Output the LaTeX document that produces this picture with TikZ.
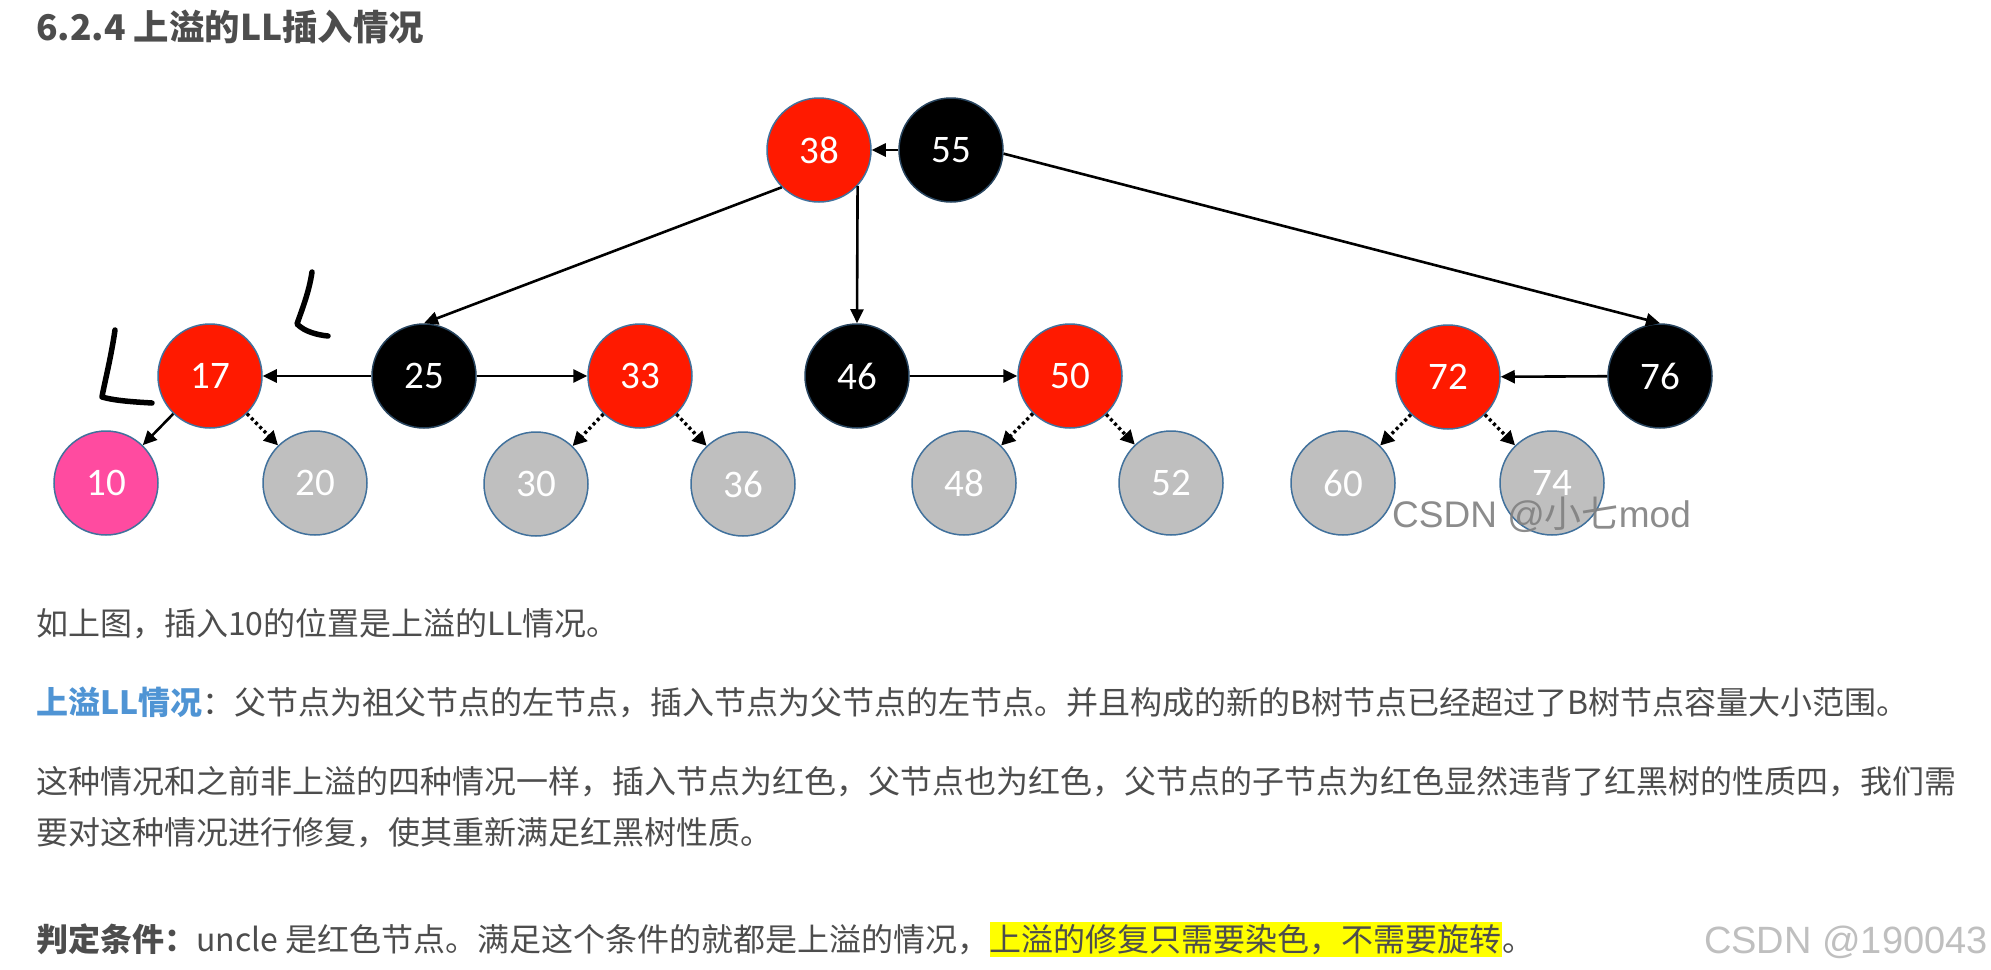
\documentclass[tikz,border=0pt]{standalone}
\usepackage{fontspec}
\setmainfont{Noto Sans CJK SC}
\newfontfamily\numfont{Carlito}
\newfontfamily\wmfont{Liberation Sans}
\newfontfamily\cjkfont{Noto Sans CJK SC}
\usetikzlibrary{arrows.meta}
\definecolor{txt}{HTML}{4D4D4D}
\definecolor{rbred}{HTML}{FF1A00}
\definecolor{rbpink}{HTML}{FF4BA0}
\definecolor{rbgray}{HTML}{BFBFBF}
\definecolor{rbedge}{HTML}{41719C}
\definecolor{hlblue}{HTML}{4F94D4}
\definecolor{hlyellow}{HTML}{FFFF00}
\begin{document}
\begin{tikzpicture}[x=1pt,y=-1pt,
  rb/.style={circle, minimum size=104pt, inner sep=0pt, draw=rbedge, line width=1.5pt,
    text=white, font=\numfont\fontsize{39pt}{41pt}\selectfont},
  rednode/.style={rb, fill=rbred},
  blacknode/.style={rb, fill=black, draw=rbedge!60!black},
  graynode/.style={rb, fill=rbgray},
  pinknode/.style={rb, fill=rbpink},
  edge/.style={line width=2.6pt, -{Triangle[length=14pt,width=13pt]}},
  nilset/.style={line width=3.4pt, dash pattern=on 3pt off 3pt, -{Triangle[length=14pt,width=14pt]}},
  hand/.style={line width=5.5pt, line cap=round, line join=round},
  body/.style={anchor=base west, inner sep=0pt, text=txt, font=\fontsize{32pt}{38pt}\selectfont},
]
\useasboundingbox (0,0) rectangle (1991,969);
\fill[white] (0,0) rectangle (1991,969);

% title
\node[anchor=base west, inner sep=0pt, text=txt, font=\bfseries\fontsize{35.4pt}{40pt}\selectfont] (title) at (36,40) {6.2.4 上溢的LL插入情况};

% tree nodes
\node[rednode] (n38) at (819,150) {38};
\node[blacknode] (n55) at (951,150) {55};
\node[rednode] (n17) at (210,376) {17};
\node[blacknode] (n25) at (424,376) {25};
\node[rednode] (n33) at (640,376) {33};
\node[blacknode] (n46) at (857,376) {46};
\node[rednode] (n50) at (1070,376) {50};
\node[rednode] (n72) at (1448,377) {72};
\node[blacknode] (n76) at (1660,376) {76};
\node[pinknode] (n10) at (106,483) {10};
\node[graynode] (n20) at (315,483) {20};
\node[graynode] (n30) at (536,484) {30};
\node[graynode] (n36) at (743,484) {36};
\node[graynode] (n48) at (964,483) {48};
\node[graynode] (n52) at (1171,483) {52};
\node[graynode] (n60) at (1343,483) {60};
\node[graynode] (n74) at (1552,483) {74};

% connectors
\draw[edge] (n55) -- (n38);
\draw[edge] (n38.225) -- (n25.north);
\draw[edge] (n38.-43) -- (n46.north);
\draw[edge] (n55.-4) -- (n76.north);
\draw[edge] (n25) -- (n17);
\draw[edge] (n25) -- (n33);
\draw[edge] (n46) -- (n50);
\draw[edge] (n76) -- (n72);
\draw[edge] (n17) -- (n10);
\draw[nilset] (n17) -- (n20);
\draw[nilset] (n33) -- (n30);
\draw[nilset] (n33) -- (n36);
\draw[nilset] (n50) -- (n48);
\draw[nilset] (n50) -- (n52);
\draw[nilset] (n72) -- (n60);
\draw[nilset] (n72) -- (n74);

% handwritten L marks
\draw[hand] (115,330) .. controls (111,358) and (104,385) .. (102,397) .. controls (116,401) and (136,402) .. (152,403);
\draw[hand] (312,272) .. controls (309,293) and (301,312) .. (297,324) .. controls (305,332) and (318,335) .. (328,336);

% watermark in picture
\node[anchor=base west, inner sep=0pt, text=black!50, opacity=0.9, font=\wmfont\fontsize{37pt}{40pt}\selectfont] (wm1) at (1392,527) {CSDN @{\cjkfont 小七}mod};

% body text
\node[body] (l1) at (36,635) {如上图，插入10的位置是上溢的LL情况。};
\node[body] (l2) at (36,714) {{\bfseries\color{hlblue}上溢LL情况}：父节点为祖父节点的左节点，插入节点为父节点的左节点。并且构成的新的B树节点已经超过了B树节点容量大小范围。};
\node[body] (l3) at (36,793) {这种情况和之前非上溢的四种情况一样，插入节点为红色，父节点也为红色，父节点的子节点为红色显然违背了红黑树的性质四，我们需};
\node[body] (l4) at (36,844) {要对这种情况进行修复，使其重新满足红黑树性质。};
\node[body] (l5a) at (36,951) {{\bfseries 判定条件：}uncle 是红色节点。满足这个条件的就都是上溢的情况，};
\node[body, fill=hlyellow, text height=29pt, text depth=6pt] (l5b) at (l5a.base east) {上溢的修复只需要染色，不需要旋转};
\node[body] (l5c) at (l5b.base east) {。};

% page watermark
\node[anchor=base east, inner sep=0pt, text=black!25, font=\wmfont\fontsize{38pt}{40pt}\selectfont] (wm2) at (1988,953) {CSDN @190043};
\end{tikzpicture}
\end{document}
